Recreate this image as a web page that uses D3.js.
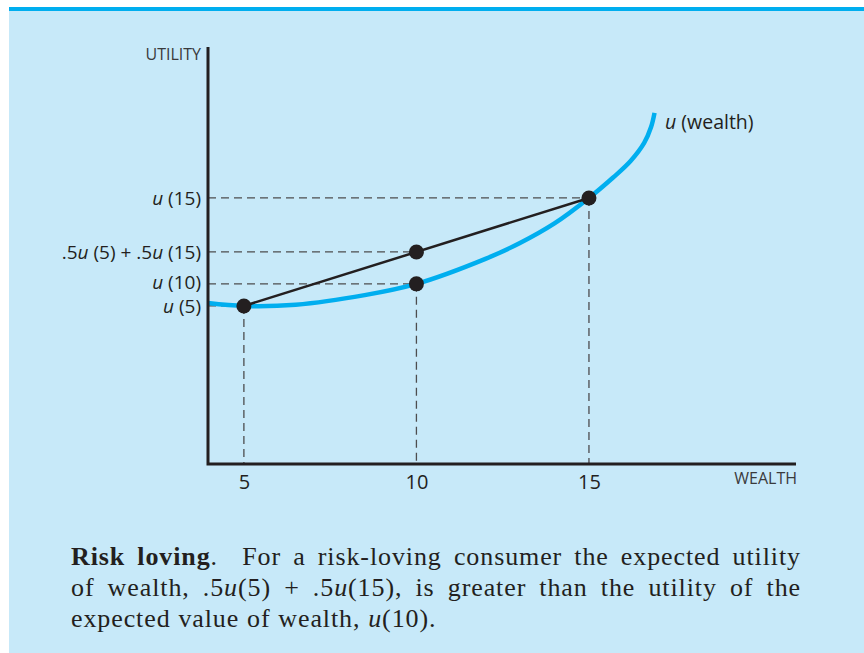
<!DOCTYPE html>
<html>
<head>
<meta charset="utf-8">
<script src="https://cdn.jsdelivr.net/npm/d3@7"></script>
<style>
  html, body { margin: 0; padding: 0; background: #ffffff; }
  svg { display: block; }
</style>
</head>
<body>
<svg id="chart" width="864" height="653"></svg>
<script>
// ---- data ----
const curveWealth  = [3.96, 5, 6.5, 8.5, 10, 12, 13, 14, 15, 15.7, 16.2, 16.6, 16.8, 16.9];
const curveUtility = [38.6, 37.9, 38.2, 40.5, 43.2, 49.2, 53.0, 57.7, 63.8, 68.7, 72.6, 77.0, 80.8, 84.2];
const pointWealth  = [5, 10, 15];
const pointUtility = [37.9, 43.2, 63.8];
const expectedUtility = 50.85;
const xTickValues = [5, 10, 15];
const xTickLabels = ["5", "10", "15"];
const yTickValues = [63.8, 50.85, 43.2, 37.9];
const yTickLabels = [
  [["u", true], [" (15)", false]],
  [[".5", false], ["u", true], [" (5) + .5", false], ["u", true], [" (15)", false]],
  [["u", true], [" (10)", false]],
  [["u", true], [" (5)", false]]
];
const xAxisTitle = "WEALTH";
const yAxisTitle = "UTILITY";
const curveLabel = [["u", true], [" (wealth)", false]];
// caption: each line is list of words; each word is list of [text, style]
const captionLines = [
  [[["Risk", "b"]], [["loving", "b"], [".", "n"]], [["", "n"]], [["For", "n"]], [["a", "n"]], [["risk-loving", "n"]], [["consumer", "n"]], [["the", "n"]], [["expected", "n"]], [["utility", "n"]]],
  [[["of", "n"]], [["wealth,", "n"]], [[".5", "n"], ["u", "i"], ["(5)", "n"]], [["+", "n"]], [[".5", "n"], ["u", "i"], ["(15),", "n"]], [["is", "n"]], [["greater", "n"]], [["than", "n"]], [["the", "n"]], [["utility", "n"]], [["of", "n"]], [["the", "n"]]],
  [[["expected", "n"]], [["value", "n"]], [["of", "n"]], [["wealth,", "n"]], [["u", "i"], ["(10).", "n"]]]
];

// ---- setup ----
const svg = d3.select("#chart");
const ink = "#231f20";
const cyan = "#00aeef";
const sans = "'Open Sans', 'DejaVu Sans', sans-serif";
const serif = "'Liberation Serif', 'DejaVu Serif', serif";

svg.append("rect").attr("x", 9).attr("y", 11).attr("width", 855).attr("height", 642).attr("fill", "#c7e9f9");
svg.append("rect").attr("x", 9).attr("y", 7).attr("width", 855).attr("height", 4).attr("fill", cyan);

const x = d3.scaleLinear().domain([3.96, 21]).range([208, 796]);
const y = d3.scaleLinear().domain([0, 100]).range([464, 47]);
const x0 = x.domain()[0];

function richText(sel, parts) {
  parts.forEach(([t, it]) => {
    sel.append("tspan").attr("font-style", it ? "italic" : "normal").text(t);
  });
}

// dashed guides
const g = svg.append("g");
const dashAttrs = s => s.attr("stroke", "#4d4d4f").attr("stroke-width", 1.3).attr("stroke-dasharray", "8,5");
pointWealth.forEach((w, i) => {
  const u = pointUtility[i];
  g.append("line").attr("x1", x(x0)).attr("x2", x(w)).attr("y1", y(u)).attr("y2", y(u)).call(dashAttrs);
  g.append("line").attr("x1", x(w)).attr("x2", x(w)).attr("y1", y(u)).attr("y2", y(0)).call(dashAttrs);
});
g.append("line").attr("x1", x(x0)).attr("x2", x(10)).attr("y1", y(expectedUtility)).attr("y2", y(expectedUtility)).call(dashAttrs);

// utility curve
const curveData = curveWealth.map((w, i) => [w, curveUtility[i]]);
svg.append("path").datum(curveData)
  .attr("d", d3.line().x(d => x(d[0])).y(d => y(d[1])).curve(d3.curveCatmullRom.alpha(0.5)))
  .attr("fill", "none").attr("stroke", cyan).attr("stroke-width", 4.5);

// chord
svg.append("line")
  .attr("x1", x(pointWealth[0])).attr("y1", y(pointUtility[0]))
  .attr("x2", x(pointWealth[2])).attr("y2", y(pointUtility[2]))
  .attr("stroke", ink).attr("stroke-width", 2.5);

// dots
const dots = [[pointWealth[0], pointUtility[0]], [pointWealth[1], pointUtility[1]], [pointWealth[1], expectedUtility], [pointWealth[2], pointUtility[2]]];
svg.selectAll("circle.dot").data(dots).enter().append("circle")
  .attr("class", "dot").attr("cx", d => x(d[0])).attr("cy", d => y(d[1])).attr("r", 7.5).attr("fill", ink);

// axes
const xAxis = svg.append("g").attr("transform", `translate(0,${y(0)})`)
  .call(d3.axisBottom(x).tickValues(xTickValues).tickFormat((d, i) => xTickLabels[i]).tickSize(0).tickPadding(11));
xAxis.select(".domain").remove();
xAxis.selectAll("text").attr("font-family", sans).attr("font-size", 20).attr("fill", ink);

const yAxis = svg.append("g").attr("transform", `translate(${x(x0)},0)`)
  .call(d3.axisLeft(y).tickValues(yTickValues).tickFormat(() => "").tickSize(0).tickPadding(7));
yAxis.select(".domain").remove();
const yDy = ["0.32em", "0.32em", "0.22em", "0.36em"];
yAxis.selectAll(".tick text").each(function (d, i) {
  const t = d3.select(this).attr("font-family", sans).attr("font-size", 19).attr("fill", ink).attr("dy", yDy[i]);
  t.text(null);
  richText(t, yTickLabels[i]);
});

svg.append("path")
  .attr("d", `M${x(x0)},${y(100)}V${y(0)}H${x(21)}`)
  .attr("fill", "none").attr("stroke", ink).attr("stroke-width", 3);

svg.append("text").attr("x", 201).attr("y", 60).attr("text-anchor", "end")
  .attr("font-family", sans).attr("font-size", 16).attr("fill", "#3a3a3c").text(yAxisTitle);
svg.append("text").attr("x", 797).attr("y", 484).attr("text-anchor", "end")
  .attr("font-family", sans).attr("font-size", 16).attr("fill", "#3a3a3c").text(xAxisTitle);

const cl = svg.append("text").attr("x", 665).attr("y", 129)
  .attr("font-family", sans).attr("font-size", 19.5).attr("fill", ink);
richText(cl, curveLabel);

// caption with justification
const capLeft = 71, capRight = 801, capTop = 565, capStep = 31, capSize = 26;
captionLines.forEach((line, li) => {
  const yy = capTop + li * capStep;
  const words = line.map(word => {
    const t = svg.append("text").attr("y", yy).attr("font-family", serif).attr("font-size", capSize)
      .attr("letter-spacing", 0.9).attr("fill", "#231f20");
    word.forEach(([txt, st]) => {
      t.append("tspan")
        .attr("font-weight", st === "b" ? "bold" : "normal")
        .attr("font-style", st === "i" ? "italic" : "normal")
        .text(txt);
    });
    return { node: t, w: t.node().getComputedTextLength() };
  });
  const total = d3.sum(words, d => d.w);
  const justify = li < captionLines.length - 1;
  const gap = justify ? (capRight - capLeft - total) / (words.length - 1) : capSize * 0.3;
  let cx = capLeft;
  words.forEach(wd => { wd.node.attr("x", cx); cx += wd.w + gap; });
});
</script>
</body>
</html>
